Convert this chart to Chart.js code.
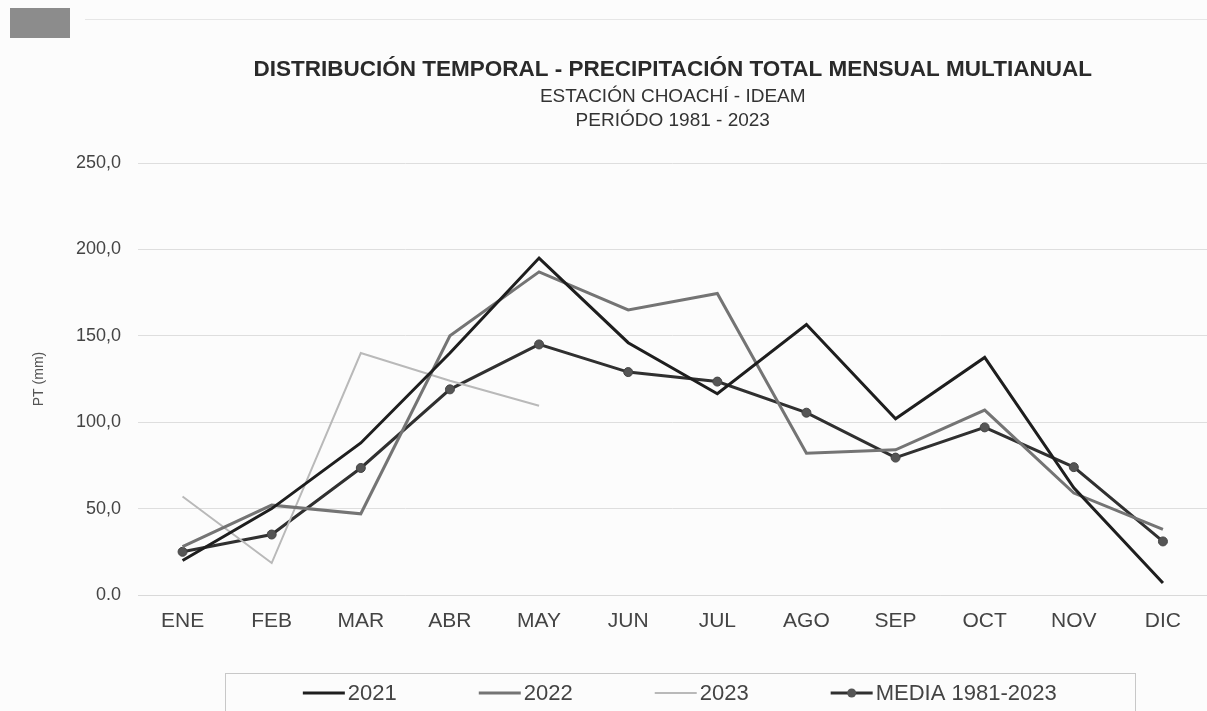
<!DOCTYPE html>
<html>
<head>
<meta charset="utf-8">
<title>Distribución temporal - Precipitación total mensual multianual</title>
<script src="https://cdn.jsdelivr.net/npm/chart.js@4"></script>
<style>
    html, body { margin: 0; padding: 0; background: #fcfcfc; overflow: hidden; }
    #wrap { position: absolute; left: 0; top: 0; width: 1213px; height: 711px; }
    /* scan artefacts of the page: grey stamp and the faint rule at the top */
    #stamp { position: absolute; left: 10px; top: 8px; width: 60px; height: 30px; background: #8c8c8c; }
    #rule { position: absolute; left: 85px; top: 19px; width: 1122px; height: 1px; background: #e6e6e6; }
</style>
</head>
<body>
<div id="stamp"></div>
<div id="rule"></div>
<div id="wrap"><canvas id="ptChart" width="1213" height="711"></canvas></div>
<script>
// Months (x axis)
const months = ['ENE', 'FEB', 'MAR', 'ABR', 'MAY', 'JUN', 'JUL', 'AGO', 'SEP', 'OCT', 'NOV', 'DIC'];

// Monthly total precipitation PT (mm)
const pt2021 = [20.0, 50.0, 88.0, 140.0, 195.0, 146.0, 116.5, 156.5, 102.0, 137.5, 62.0, 7.0];
const pt2022 = [28.0, 52.0, 47.0, 150.0, 187.0, 165.0, 174.5, 82.0, 84.0, 107.0, 59.0, 38.0];
const pt2023 = [57.0, 18.5, 140.0, 124.0, 109.5];
const ptMedia = [25.0, 35.0, 73.5, 119.0, 145.0, 129.0, 123.5, 105.5, 79.5, 97.0, 74.0, 31.0];

// Y tick labels as printed (note the last one uses a dot)
const yTickValues = [250, 200, 150, 100, 50, 0];
const yTickLabels = ['250,0', '200,0', '150,0', '100,0', '50,0', '0.0'];

const FONT = "'Liberation Sans', Arial, sans-serif";

Chart.defaults.font.family = FONT;
Chart.defaults.color = '#444';

// Boxed legend drawn under the axis, like the Excel one
const boxLegend = {
    id: 'boxLegend',
    afterDraw(chart) {
        const ctx = chart.ctx;
        const area = chart.chartArea;
        const lineW = 42, textGap = 3, itemGap = 82, boxPad = 78;
        const y = 693;
        ctx.save();
        ctx.font = '22px ' + FONT;
        const items = chart.data.datasets.map(ds => ({
            ds: ds,
            w: lineW + textGap + ctx.measureText(ds.label).width
        }));
        const total = items.reduce((s, it) => s + it.w, 0) + itemGap * (items.length - 1);
        const cx = (area.left + area.right) / 2 + 7;
        let x = cx - total / 2;

        ctx.strokeStyle = '#c8c8c8';
        ctx.lineWidth = 1;
        ctx.strokeRect(Math.round(x - boxPad) + 0.5, 673.5, Math.round(total + 2 * boxPad), 60);

        ctx.textBaseline = 'middle';
        ctx.textAlign = 'left';
        items.forEach(it => {
            const ds = it.ds;
            ctx.strokeStyle = ds.borderColor;
            ctx.lineWidth = ds.borderWidth;
            ctx.beginPath();
            ctx.moveTo(x, y);
            ctx.lineTo(x + lineW, y);
            ctx.stroke();
            if (ds.pointRadius > 0) {
                ctx.fillStyle = ds.pointBackgroundColor;
                ctx.beginPath();
                ctx.arc(x + lineW / 2, y, ds.pointRadius, 0, Math.PI * 2);
                ctx.fill();
            }
            ctx.fillStyle = '#444';
            ctx.fillText(ds.label, x + lineW + textGap, y + 1);
            x += it.w + itemGap;
        });
        ctx.restore();
    }
};

const chartConfig = {
    type: 'line',
    data: {
        labels: months,
        datasets: [
            {
                label: '2021',
                data: pt2021,
                borderColor: '#1e1e1e',
                borderWidth: 3,
                pointRadius: 0,
                tension: 0
            },
            {
                label: '2022',
                data: pt2022,
                borderColor: '#747474',
                borderWidth: 3,
                pointRadius: 0,
                tension: 0
            },
            {
                label: '2023',
                data: pt2023,
                borderColor: '#b9b9b9',
                borderWidth: 2,
                pointRadius: 0,
                tension: 0
            },
            {
                label: 'MEDIA 1981-2023',
                data: ptMedia,
                borderColor: '#303030',
                borderWidth: 3,
                pointRadius: 4.5,
                pointBackgroundColor: '#555',
                pointBorderColor: '#444',
                pointBorderWidth: 1,
                tension: 0
            }
        ]
    },
    options: {
        responsive: false,
        devicePixelRatio: 1,
        animation: false,
        layout: {
            padding: { left: 0, right: 0, top: 0, bottom: 66 }
        },
        scales: {
            x: {
                offset: true,
                grid: { display: false, drawTicks: false },
                border: { display: true, color: '#d9d9d9' },
                ticks: {
                    color: '#444',
                    padding: 14,
                    font: { size: 21 }
                },
                afterFit(scale) { scale.height = 50; }
            },
            y: {
                min: 0,
                max: 250,
                afterBuildTicks(scale) {
                    scale.ticks = yTickValues.map(v => ({ value: v }));
                },
                grid: { color: '#dedede', drawTicks: false },
                border: { display: false },
                ticks: {
                    color: '#444',
                    padding: 17,
                    font: { size: 18 },
                    callback: function (value) {
                        const i = yTickValues.indexOf(value);
                        return i >= 0 ? yTickLabels[i] : '';
                    }
                },
                title: {
                    display: true,
                    text: 'PT (mm)',
                    color: '#555',
                    font: { size: 14 },
                    padding: { top: 31, bottom: 0 }
                },
                afterFit(scale) { scale.width = 138; }
            }
        },
        plugins: {
            legend: { display: false },
            tooltip: { enabled: false },
            title: {
                display: true,
                fullSize: false,
                text: 'DISTRIBUCIÓN TEMPORAL - PRECIPITACIÓN TOTAL MENSUAL MULTIANUAL',
                color: '#2a2a2a',
                font: { size: 22.5, weight: 'bold', lineHeight: 24 / 22.5 },
                padding: { top: 58, bottom: 0 }
            },
            subtitle: {
                display: true,
                fullSize: false,
                text: ['ESTACIÓN CHOACHÍ - IDEAM', 'PERIÓDO 1981 - 2023'],
                color: '#333',
                font: { size: 19, lineHeight: 24 / 19 },
                padding: { top: 3, bottom: 30 }
            }
        }
    },
    plugins: [boxLegend]
};

const ptChart = new Chart(document.getElementById('ptChart'), chartConfig);
</script>
</body>
</html>
